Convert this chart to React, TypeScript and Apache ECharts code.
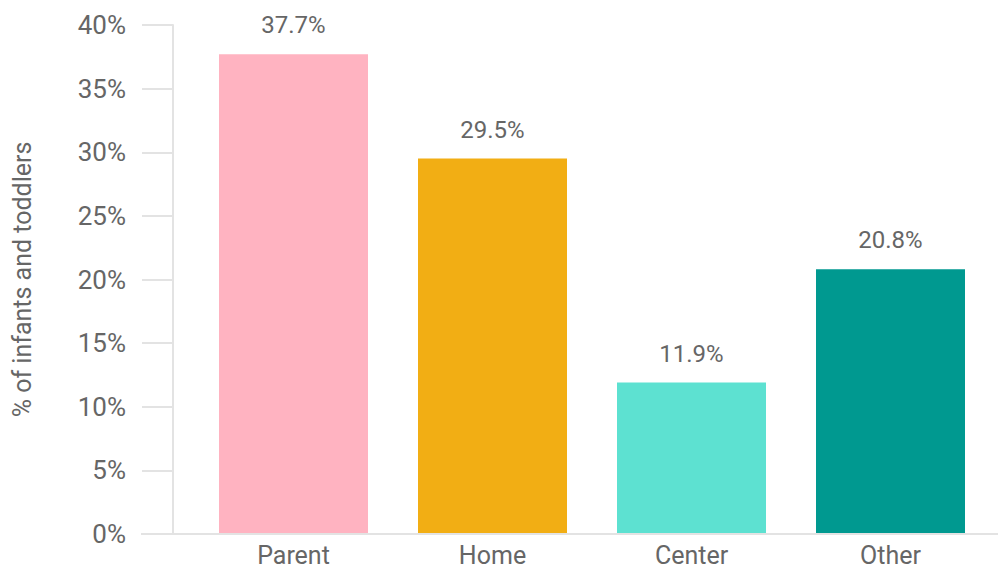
import React, { useEffect, useRef } from "react";
import * as echarts from "echarts";

const categories = ["Parent", "Home", "Center", "Other"];
const values = [37.7, 29.5, 11.9, 20.8];
const barColors = ["#FFB3C1", "#F2AE14", "#5DE1D1", "#009990"];
const yTicks = { min: 0, max: 40, interval: 5 };
const yAxisName = "% of infants and toddlers";

const FONT = "Roboto, sans-serif";
const TEXT = "#666666";
const LINE = "#E3E3E3";

export default function App() {
  const ref = useRef<HTMLDivElement>(null);
  useEffect(() => {
    if (!ref.current) return;
    const chart = echarts.init(ref.current, undefined, { renderer: "svg" });
    const gridTop = 25;
    const gridBottom = 35;
    chart.setOption({
      animation: false,
      grid: {
        left: 194,
        right: 9,
        top: gridTop,
        bottom: gridBottom,
        containLabel: false,
        outerBoundsMode: "none",
      },
      xAxis: {
        type: "category",
        data: categories,
        axisLine: { show: false },
        axisTick: { show: false },
        axisLabel: { color: TEXT, fontFamily: FONT, fontSize: 25, lineHeight: 25, margin: 9 },
      },
      yAxis: {
        type: "value",
        min: yTicks.min,
        max: yTicks.max,
        interval: yTicks.interval,
        offset: 21,
        name: yAxisName,
        nameLocation: "middle",
        nameGap: 138,
        nameTextStyle: { color: TEXT, fontFamily: FONT, fontSize: 25 },
        axisLine: { show: true, lineStyle: { color: LINE, width: 2 } },
        axisTick: { show: true, length: 31, lineStyle: { color: LINE, width: 2 } },
        splitLine: { show: false },
        axisLabel: {
          color: TEXT,
          fontFamily: FONT,
          fontSize: 26,
          margin: 47,
          formatter: "{value}%",
        },
      },
      graphic: [
        {
          type: "line",
          shape: { x1: 141, y1: 569 - gridBottom, x2: 998, y2: 569 - gridBottom },
          style: { stroke: LINE, lineWidth: 2 },
          z: 10,
        },
      ],
      series: [
        {
          type: "bar",
          barWidth: 149,
          data: values.map((v, i) => ({ value: v, itemStyle: { color: barColors[i] } })),
          label: {
            show: true,
            position: "top",
            distance: 17,
            color: TEXT,
            fontFamily: FONT,
            fontSize: 24,
            formatter: (p: any) => `${p.value}%`,
          },
        },
      ],
    });
    return () => chart.dispose();
  }, []);
  return <div ref={ref} style={{ width: 999, height: 569, position: "absolute", left: 0, top: 0 }} />;
}
